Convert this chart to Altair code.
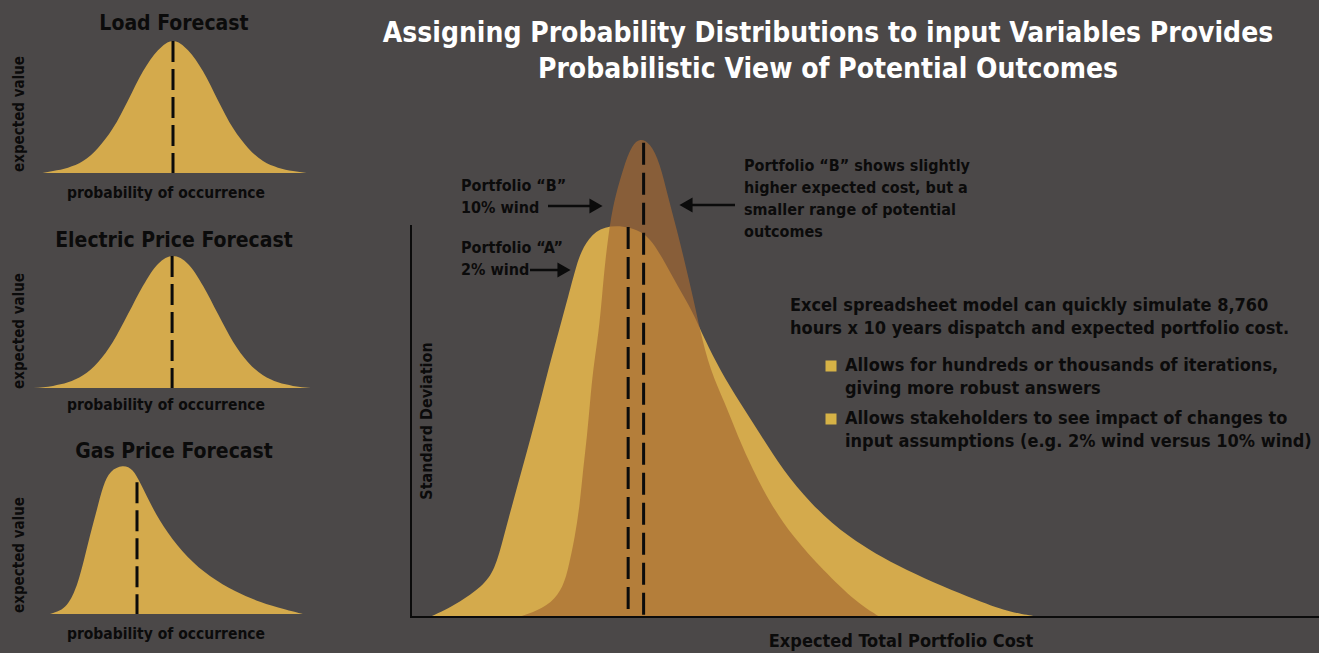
import altair as alt
import pandas as pd

# ---------------- values ----------------
# Small input-variable distributions (x: 0-100 index, y: % of peak height)
load_x = [6.5, 10, 15, 20, 25, 30, 35, 40, 45, 50, 55, 60, 65, 70, 75, 80, 85, 90, 94.5]
load_y = [0, 1.5, 4, 9, 19, 34, 55, 77, 93, 100, 93, 77, 55, 34, 19, 9, 4, 1.5, 0]
load_mean, load_mean_top = 50, 100

elec_x = [3.5, 10, 15, 20, 25, 30, 35, 40, 45, 50, 55, 60, 65, 70, 75, 80, 85, 90, 96]
elec_y = [0, 1.6, 4.3, 9.6, 19.5, 35, 56, 77.5, 94, 100, 94, 77.5, 56, 35, 19.5, 9.6, 4.3, 1.6, 0]
elec_mean, elec_mean_top = 49.7, 100

gas_x = [9, 12.3, 14.7, 16.5, 18.3, 20.3, 22.3, 24.7, 26.7, 29, 33.3, 36.7, 39, 43.3, 48, 54.7, 62.3, 70.7, 79, 87.3, 93.3]
gas_y = [0, 2, 6, 12, 21, 36, 53, 71, 87, 97, 101, 98, 89, 71, 55, 38, 25, 15, 8, 3, 0]
gas_mean, gas_mean_top = 38, 89

# Portfolio cost distributions (x: cost index 0-100, y: relative frequency 0-100)
a_x = [2.2, 3.85, 5.28, 7.92, 9.35, 10.3, 11.3, 12.3, 13.3, 14.3, 15.2, 16.4, 17.4, 18.37, 19.03,
       20.35, 22.55, 25.85, 27.72, 29.48, 31.02, 32.45, 34.1, 36.3, 38.72, 41.03, 44.0, 48.07, 54.24,
       63.04, 66.0, 69.3]
a_y = [0, 1.46, 2.92, 6.26, 9.81, 16.7, 23.8, 30.7, 37.6, 44.7, 51.6, 59.9, 66.8, 73.9, 77.2,
       80.8, 82.0, 80.8, 75.2, 68.9, 64.1, 57.8, 51.6, 44.7, 37.6, 30.7, 23.8, 16.7, 9.81,
       2.92, 1.0, 0]
a_mean, a_mean_top = 24.0, 81.4

b_x = [11.88, 13.42, 15.62, 16.83, 17.38, 18.15, 18.7, 19.03, 19.47, 19.8, 20.13, 20.79, 21.12, 21.45,
       22.0, 22.55, 23.65, 24.42, 25.3, 26.4, 27.5, 28.38, 29.37, 30.25, 31.13, 31.9, 33.0, 34.65,
       36.08, 37.73, 39.6, 42.13, 45.43, 49.17, 51.7]
b_y = [0, 0.84, 2.92, 6.26, 9.81, 16.7, 23.8, 30.7, 37.6, 44.7, 51.6, 59.9, 66.8, 73.9,
       82.3, 87.7, 94.8, 98.5, 100, 99.0, 94.8, 87.7, 80.8, 73.9, 66.8, 59.9, 51.6, 44.7,
       37.6, 30.7, 23.8, 16.7, 9.81, 2.92, 0]
b_mean, b_mean_top = 25.7, 99

# ---------------- text ----------------
panel_titles = ["Load Forecast", "Electric Price Forecast", "Gas Price Forecast"]
panel_xlabel = "probability of occurrence"
panel_ylabel = "expected value"
main_title = "Assigning Probability Distributions to input Variables Provides\nProbabilistic View of Potential Outcomes"
main_xlabel = "Expected Total Portfolio Cost"
main_ylabel = "Standard Deviation"
note_b = "Portfolio \u201cB\u201d\n10% wind"
note_a = "Portfolio \u201cA\u201d\n2% wind"
note_right = "Portfolio \u201cB\u201d shows slightly\nhigher expected cost, but a\nsmaller range of potential\noutcomes"
intro = "Excel spreadsheet model can quickly simulate 8,760\nhours x 10 years dispatch and expected portfolio cost."
bullets = ["Allows for hundreds or thousands of iterations,\ngiving more robust answers",
           "Allows stakeholders to see impact of changes to\ninput assumptions (e.g. 2% wind versus 10% wind)"]

# ---------------- style ----------------
FONT = "'DejaVu Sans Condensed', 'Liberation Sans Narrow', 'Roboto Condensed', 'Liberation Sans', sans-serif"
BG = "#4b4848"
YELLOW = "#d4aa4c"
BROWN = "#a56932"
INK = "#0b0b0b"


def dist_layer(xs, ys, mean, top, xr, yr, color=YELLOW, opacity=1.0, dash=(21, 7), interp="monotone"):
    sx = alt.Scale(domain=[0, 100], range=xr)
    sy = alt.Scale(domain=[0, 100], range=yr)
    area = alt.Chart(pd.DataFrame({"v": xs, "f": ys})).mark_area(
        color=color, opacity=opacity, interpolate=interp
    ).encode(x=alt.X("v:Q", scale=sx, axis=None), y=alt.Y("f:Q", scale=sy, axis=None))
    rule = alt.Chart(pd.DataFrame({"v": [mean], "f": [top], "f0": [0]})).mark_rule(
        color=INK, strokeWidth=3, strokeDash=list(dash)
    ).encode(x=alt.X("v:Q", scale=sx, axis=None), y=alt.Y("f:Q", scale=sy, axis=None), y2="f0:Q")
    return area, rule


def panel(xs, ys, mean, top, xr, yr, interp="monotone"):
    area, rule = dist_layer(xs, ys, mean, top, xr, yr, interp=interp)
    return alt.layer(area, rule)


def label(text, x, y, size, color=INK, angle=0, align="center", baseline="middle", line_height=None):
    kw = dict(font=FONT, fontWeight="bold", fontSize=size, color=color, align=align,
              baseline=baseline, lineBreak="\n")
    if angle:
        kw["angle"] = angle
    if line_height:
        kw["lineHeight"] = line_height
    return alt.Chart(pd.DataFrame({"t": [text]})).mark_text(**kw).encode(
        text="t:N", x=alt.value(x), y=alt.value(y))


def hline(x1, x2, y, width=2.5):
    return alt.Chart(pd.DataFrame({"k": [0]})).mark_rule(color=INK, strokeWidth=width).encode(
        x=alt.value(x1), x2=alt.value(x2), y=alt.value(y))


def vline(x, y1, y2, width=2):
    return alt.Chart(pd.DataFrame({"k": [0]})).mark_rule(color=INK, strokeWidth=width).encode(
        x=alt.value(x), y=alt.value(y1), y2=alt.value(y2))


def head(x, y, shape):
    return alt.Chart(pd.DataFrame({"k": [0]})).mark_point(
        shape=shape, filled=True, color=INK, opacity=1, size=230, strokeWidth=0
    ).encode(x=alt.value(x), y=alt.value(y))


def square(x, y):
    return alt.Chart(pd.DataFrame({"k": [0]})).mark_square(
        color="#d6b246", opacity=1, size=121).encode(x=alt.value(x), y=alt.value(y))


layers = []

# three input-variable panels
layers.append(panel(load_x, load_y, load_mean, load_mean_top, [23, 323], [173, 41]))
layers.append(panel(elec_x, elec_y, elec_mean, elec_mean_top, [23, 323], [388, 256]))
layers.append(panel(gas_x, gas_y, gas_mean, gas_mean_top, [23, 323], [614, 466], interp="basis"))

# main comparison panel
msx = [410, 1319]
msy = [617, 138]
a_area, a_rule = dist_layer(a_x, a_y, a_mean, a_mean_top, msx, msy, dash=(22, 8), interp="basis")
b_area, b_rule = dist_layer(b_x, b_y, b_mean, b_mean_top, msx, msy, color=BROWN, opacity=0.68,
                            dash=(22, 8), interp="basis")
layers.append(alt.layer(a_area, b_area, a_rule, b_rule))

# main axes
layers.append(vline(411, 225, 618))
layers.append(hline(410, 1319, 617, 2))

# panel texts
for title, ty, xl_y, yl_y in zip(panel_titles, [24, 241, 452], [193, 405, 634], [114, 331, 555]):
    layers.append(label(title, 174, ty, 21))
    layers.append(label(panel_xlabel, 166, xl_y, 15.5))
    layers.append(label(panel_ylabel, 19, yl_y, 15, angle=270))

# main texts
layers.append(label(main_title, 828, 42, 28, color="white", baseline="alphabetic", line_height=36))
layers.append(label(main_xlabel, 901, 642, 18))
layers.append(label(main_ylabel, 427, 421, 16, angle=270))
layers.append(label(note_b, 461, 186, 16, align="left", line_height=22))
layers.append(label(note_a, 461, 248, 16, align="left", line_height=22))
layers.append(label(note_right, 744, 166, 16, align="left", line_height=22))
layers.append(label(intro, 790, 306, 18, align="left", line_height=23))
layers.append(label(bullets[0], 845, 366, 18, align="left", line_height=23))
layers.append(label(bullets[1], 845, 419, 18, align="left", line_height=23))
layers.append(square(831, 366))
layers.append(square(831, 419))

# arrows
layers.append(hline(548, 592, 206))
layers.append(head(596, 206, "triangle-right"))
layers.append(hline(530, 560, 270))
layers.append(head(564, 270, "triangle-right"))
layers.append(hline(692, 735, 205))
layers.append(head(686, 205, "triangle-left"))

chart = alt.layer(*layers).resolve_scale(x="independent", y="independent").properties(
    width=1319, height=653, background=BG, padding=0,
    autosize=alt.AutoSizeParams(type="none"),
).configure_view(stroke=None)

chart.save("out.html", embed_options={"renderer": "svg", "actions": False})
